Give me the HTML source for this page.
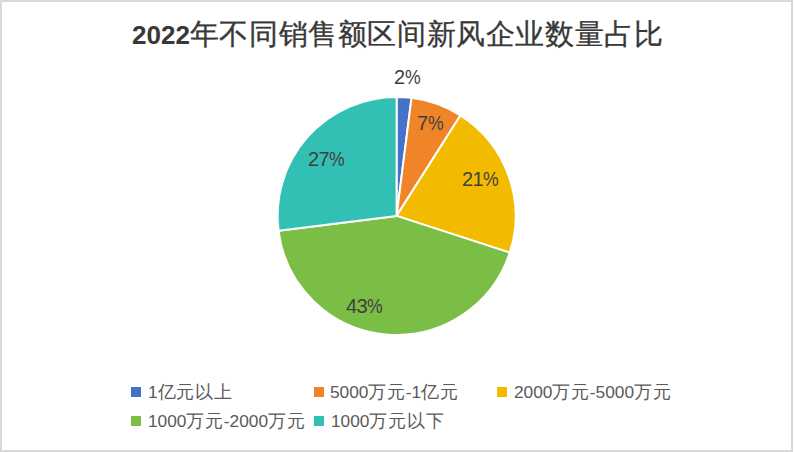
<!DOCTYPE html>
<html><head><meta charset="utf-8">
<style>
html,body{margin:0;padding:0;background:#fff;}
body{width:794px;height:452px;position:relative;overflow:hidden;font-family:"Liberation Sans",sans-serif;color:#404040;}
.frame{position:absolute;left:0;top:0;border-top:2px solid #d9d9d9;border-left:2px solid #dadada;border-right:2px solid #d9d9d9;border-bottom:2px solid #d9d9d9;box-sizing:border-box;height:452px;width:793px;}
.title{position:absolute;left:132px;top:14px;font-size:26px;line-height:40px;white-space:nowrap;color:#383838;}
.title .cj{font-size:29px;letter-spacing:0.6px;-webkit-text-stroke:0.3px #383838;}
.title b{font-weight:bold;}
.lbl{position:absolute;font-size:20px;letter-spacing:-0.6px;line-height:20px;white-space:nowrap;color:#404040;}
.leg{position:absolute;font-size:17.3px;line-height:20px;white-space:nowrap;color:#595959;}
.leg .c{font-size:18px;letter-spacing:0.7px;}
.lbl .p{display:inline-block;transform:scaleX(0.88);transform-origin:0 0;}
.sq{position:absolute;width:10px;height:10px;}
svg{position:absolute;left:0;top:0;}
</style></head>
<body>
<div class="frame"></div>
<div class="title"><b>2022</b><span class="cj">年不同销售额区间新风企业数量占比</span></div>
<svg width="794" height="452" viewBox="0 0 794 452">
<g stroke="#fff" stroke-width="2" stroke-linejoin="round">
<path d="M396.6 215.9L396.60 96.90A119.0 119.0 0 0 1 411.51 97.84Z" fill="#4472C8"/>
<path d="M396.6 215.9L411.51 97.84A119.0 119.0 0 0 1 460.36 115.42Z" fill="#F08429"/>
<path d="M396.6 215.9L460.36 115.42A119.0 119.0 0 0 1 509.78 252.67Z" fill="#F2BB00"/>
<path d="M396.6 215.9L509.78 252.67A119.0 119.0 0 0 1 278.54 230.81Z" fill="#7BBE45"/>
<path d="M396.6 215.9L278.54 230.81A119.0 119.0 0 0 1 396.60 96.90Z" fill="#33C0B4"/>
</g>
</svg>
<div class="lbl" style="left:394px;top:67px">2<span class="p">%</span></div>
<div class="lbl" style="left:417px;top:113px">7<span class="p">%</span></div>
<div class="lbl" style="left:462px;top:169px">21<span class="p">%</span></div>
<div class="lbl" style="left:308px;top:149px">27<span class="p">%</span></div>
<div class="lbl" style="left:346px;top:296px">43<span class="p">%</span></div>

<div class="sq" style="left:131px;top:387px;background:#4472C8"></div>
<div class="leg" style="left:148px;top:382px">1<span class="c">亿元以上</span></div>
<div class="sq" style="left:314px;top:387px;background:#F08429"></div>
<div class="leg" style="left:330px;top:382px">5000<span class="c">万元</span>-1<span class="c">亿元</span></div>
<div class="sq" style="left:497px;top:387px;background:#F2BB00"></div>
<div class="leg" style="left:514px;top:382px">2000<span class="c">万元</span>-5000<span class="c">万元</span></div>
<div class="sq" style="left:131px;top:416px;background:#7BBE45"></div>
<div class="leg" style="left:148px;top:411px">1000<span class="c">万元</span>-2000<span class="c">万元</span></div>
<div class="sq" style="left:314px;top:416px;background:#33C0B4"></div>
<div class="leg" style="left:331px;top:411px">1000<span class="c">万元以下</span></div>
</body></html>
